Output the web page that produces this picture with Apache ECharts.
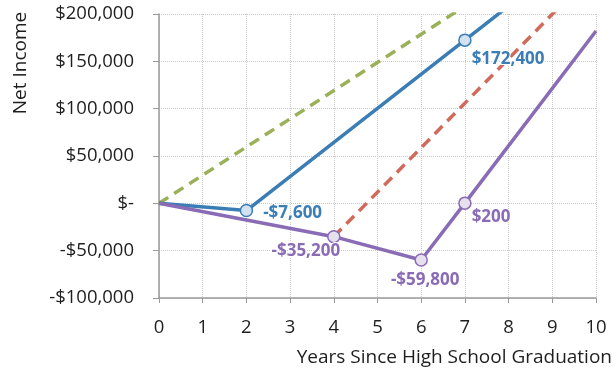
<!DOCTYPE html>
<html>
<head>
<meta charset="utf-8">
<script src="https://cdn.jsdelivr.net/npm/echarts@6/dist/echarts.min.js"></script>
<style>
  html, body { margin: 0; padding: 0; background: #fff; }
  #chart { width: 613px; height: 373px; }
</style>
</head>
<body>
<div id="chart"></div>
<script>
// years since graduation, net income per path
const years = [0, 1, 2, 3, 4, 5, 6, 7, 8, 9, 10]
const greenPts = [[0, 0], [7, 208300]]
const bluePts = [[0, 0], [2, -7600], [7, 172400], [8, 208400]]
const redPts = [[4, -35200], [10, 246800]]
const purplePts = [[0, 0], [4, -35200], [6, -59800], [7, 200], [10, 182000]]
// points that carry a marker + value label
const blueMarked = [1, 2]
const purpleMarked = [1, 2, 3]
const yTicks = [-100000, -50000, 0, 50000, 100000, 150000, 200000]

const font = '"Open Sans", sans-serif'
const BLUE = '#3b7db5'
const PURPLE = '#8a6bb5'

function money (v) {
  if (v === 0) return '$-'
  return (v < 0 ? '-$' : '$') + Math.abs(v).toLocaleString('en-US')
}

// label placement per marked point
const labelPos = {
  'b1': { position: 'right', distance: 10, offset: [0, 3] },
  'b2': { position: 'right', distance: 2, offset: [-2, 19] },
  'p1': { position: 'bottom', distance: 0, offset: [-28, -1] },
  'p2': { position: 'bottom', distance: 5, offset: [4, 0] },
  'p3': { position: 'right', distance: 2, offset: [-2, 14] }
}

function buildData (pts, marked, color, fill, key) {
  return pts.map((p, i) => {
    if (marked.indexOf(i) < 0) return { value: p, symbol: 'none' }
    const lp = labelPos[key + i]
    return {
      value: p,
      symbol: 'circle',
      symbolSize: 12,
      itemStyle: { color: fill, borderColor: color, borderWidth: 1.5 },
      label: {
        show: true,
        formatter: money(p[1]),
        color: color,
        fontFamily: font,
        fontWeight: 'bold',
        fontSize: 17,
        textBorderColor: '#fff',
        textBorderWidth: 2,
        position: lp.position,
        distance: lp.distance,
        offset: lp.offset
      }
    }
  })
}

const chart = echarts.init(document.getElementById('chart'), null, { renderer: 'canvas' })
chart.setOption({
  animation: false,
  grid: { left: 159, right: 17, top: 14, bottom: 75 },
  xAxis: [{
    type: 'value',
    min: 0,
    max: 10,
    interval: 1,
    axisLine: { show: false },
    axisTick: { show: false },
    axisLabel: { color: '#1e1e1e', fontFamily: font, fontSize: 18.5, margin: 20 },
    splitLine: { show: true, lineStyle: { color: '#c8c8c8', type: [1, 1], width: 1 } }
  }, {
    type: 'value',
    min: 0,
    max: 10,
    interval: 1,
    position: 'bottom',
    axisLine: { show: true, onZero: true, lineStyle: { color: '#9a9a9a', width: 1.5 } },
    axisTick: { show: true, length: 5, lineStyle: { color: '#9a9a9a' } },
    axisLabel: { show: false },
    splitLine: { show: false }
  }],
  yAxis: {
    type: 'value',
    min: yTicks[0],
    max: yTicks[yTicks.length - 1],
    interval: 50000,
    axisLine: { show: true, onZero: false, lineStyle: { color: '#9a9a9a', width: 1.5 } },
    axisTick: { show: true, length: 6, lineStyle: { color: '#9a9a9a' } },
    axisLabel: { color: '#1e1e1e', fontFamily: font, fontSize: 18.5, margin: 25, formatter: money },
    splitLine: { show: true, lineStyle: { color: '#c8c8c8', type: [1, 1], width: 1 } }
  },
  graphic: [{
    type: 'text',
    x: 21,
    y: 63,
    rotation: Math.PI / 2,
    style: { text: 'Net Income', fontFamily: font, fontSize: 19, fill: '#1e1e1e', align: 'center', verticalAlign: 'middle' }
  }, {
    type: 'text',
    right: 1,
    top: 348,
    style: { text: 'Years Since High School Graduation', fontFamily: font, fontSize: 19, fill: '#1e1e1e' }
  }],
  series: [{
    type: 'line',
    data: greenPts,
    symbol: 'none',
    lineStyle: { color: '#9bb159', width: 3.5, type: [11, 7] },
    z: 2
  }, {
    type: 'line',
    data: redPts,
    symbol: 'none',
    lineStyle: { color: '#cf6a5c', width: 3.5, type: [11, 7] },
    z: 2
  }, {
    type: 'line',
    data: buildData(bluePts, blueMarked, BLUE, '#d3e2f1', 'b'),
    showAllSymbol: true,
    lineStyle: { color: BLUE, width: 3.5 },
    z: 3
  }, {
    type: 'line',
    data: buildData(purplePts, purpleMarked, PURPLE, '#e6e0ef', 'p'),
    showAllSymbol: true,
    lineStyle: { color: PURPLE, width: 3.5 },
    z: 3
  }]
})
</script>
</body>
</html>
